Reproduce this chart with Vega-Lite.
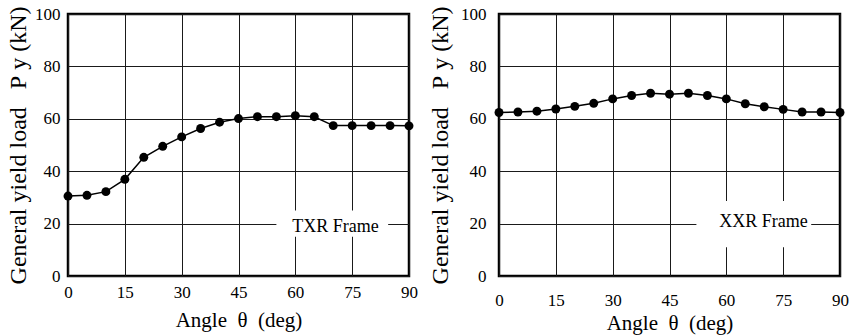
{
  "$schema": "https://vega.github.io/schema/vega-lite/v6.json",
  "padding": {"left": 5, "top": 3, "right": 0, "bottom": 0},
  "background": "white",
  "config": {
    "view": {"stroke": "black", "strokeWidth": 2.5},
    "axis": {
      "grid": true, "gridColor": "#1a1a1a", "gridOpacity": 1, "gridWidth": 1,
      "domain": false, "ticks": false, "labelFlush": false, "labelOverlap": false,
      "labelFontSize": 17, "labelColor": "black",
      "titleFontWeight": "normal", "titleColor": "black", "titleFontSize": 21
    }
  },
  "datasets": {
    "txr": [
      {"angle": 0, "load": 30.5}, {"angle": 5, "load": 30.8}, {"angle": 10, "load": 32.2},
      {"angle": 15, "load": 36.9}, {"angle": 20, "load": 45.3}, {"angle": 25, "load": 49.5},
      {"angle": 30, "load": 53.1}, {"angle": 35, "load": 56.3}, {"angle": 40, "load": 58.7},
      {"angle": 45, "load": 60.1}, {"angle": 50, "load": 60.8}, {"angle": 55, "load": 60.8},
      {"angle": 60, "load": 61.2}, {"angle": 65, "load": 60.8}, {"angle": 70, "load": 57.4},
      {"angle": 75, "load": 57.4}, {"angle": 80, "load": 57.4}, {"angle": 85, "load": 57.4},
      {"angle": 90, "load": 57.3}
    ],
    "xxr": [
      {"angle": 0, "load": 62.4}, {"angle": 5, "load": 62.6}, {"angle": 10, "load": 62.9},
      {"angle": 15, "load": 63.75}, {"angle": 20, "load": 64.75}, {"angle": 25, "load": 65.9},
      {"angle": 30, "load": 67.6}, {"angle": 35, "load": 68.9}, {"angle": 40, "load": 69.75},
      {"angle": 45, "load": 69.4}, {"angle": 50, "load": 69.75}, {"angle": 55, "load": 68.9},
      {"angle": 60, "load": 67.6}, {"angle": 65, "load": 65.75}, {"angle": 70, "load": 64.6},
      {"angle": 75, "load": 63.6}, {"angle": 80, "load": 62.6}, {"angle": 85, "load": 62.6},
      {"angle": 90, "load": 62.4}
    ],
    "lab1": [{"label": "TXR Frame"}],
    "lab2": [{"label": "XXR Frame"}]
  },
  "spacing": 8,
  "hconcat": [
    {
      "width": 341, "height": 262,
      "layer": [
        {
          "data": {"name": "txr"},
          "mark": {"type": "line", "color": "black", "strokeWidth": 1.5},
          "encoding": {
            "x": {"field": "angle", "type": "quantitative", "scale": {"domain": [0, 90], "nice": false},
                  "axis": {"values": [0, 15, 30, 45, 60, 75, 90], "title": "Angle\u00a0\u00a0θ\u00a0\u00a0(deg)", "labelFont": "Liberation Serif", "titleFont": "Liberation Serif", "labelPadding": 8, "titlePadding": 9}},
            "y": {"field": "load", "type": "quantitative", "scale": {"domain": [0, 100], "nice": false},
                  "axis": {"values": [0, 20, 40, 60, 80, 100], "title": "General yield load\u00a0\u00a0\u00a0P\u00a0y\u00a0(kN)", "labelFont": "Liberation Serif", "titleFont": "Liberation Serif", "labelPadding": 8, "titlePadding": 4, "titleFontSize": 24}}
          }
        },
        {
          "data": {"name": "lab1"},
          "mark": {"type": "rect", "fill": "white"},
          "encoding": {"x": {"datum": 55, "type": "quantitative"}, "x2": {"datum": 84.5}, "y": {"datum": 15, "type": "quantitative"}, "y2": {"datum": 25}}
        },
        {
          "data": {"name": "lab1"},
          "mark": {"type": "text", "font": "Liberation Serif", "fontSize": 18, "color": "black", "align": "center", "baseline": "middle"},
          "encoding": {"x": {"datum": 70.6, "type": "quantitative"}, "y": {"datum": 18.7, "type": "quantitative"}, "text": {"field": "label"}}
        },
        {
          "data": {"name": "txr"},
          "mark": {"type": "point", "filled": true, "color": "black", "opacity": 1, "size": 80},
          "encoding": {
            "x": {"field": "angle", "type": "quantitative"},
            "y": {"field": "load", "type": "quantitative"}
          }
        }
      ]
    },
    {
      "width": 341, "height": 262,
      "layer": [
        {
          "data": {"name": "xxr"},
          "mark": {"type": "line", "color": "black", "strokeWidth": 1.5},
          "encoding": {
            "x": {"field": "angle", "type": "quantitative", "scale": {"domain": [0, 90], "nice": false},
                  "axis": {"values": [0, 15, 30, 45, 60, 75, 90], "title": "Angle\u00a0\u00a0θ\u00a0\u00a0(deg)", "labelFont": "Liberation Serif", "titleFont": "Liberation Serif", "labelPadding": 16, "titlePadding": 4, "labelDx": 2}},
            "y": {"field": "load", "type": "quantitative", "scale": {"domain": [0, 100], "nice": false},
                  "axis": {"values": [0, 20, 40, 60, 80, 100], "title": "General yield load\u00a0\u00a0\u00a0P\u00a0y\u00a0(kN)", "labelFont": "Liberation Serif", "titleFont": "Liberation Serif", "labelPadding": 13, "titlePadding": 8, "titleFontSize": 24}}
          }
        },
        {
          "data": {"name": "lab2"},
          "mark": {"type": "rect", "fill": "white"},
          "encoding": {"x": {"datum": 52.1, "type": "quantitative"}, "x2": {"datum": 82.4}, "y": {"datum": 11, "type": "quantitative"}, "y2": {"datum": 28.6}}
        },
        {
          "data": {"name": "lab2"},
          "mark": {"type": "text", "font": "Liberation Serif", "fontSize": 18, "color": "black", "align": "center", "baseline": "middle"},
          "encoding": {"x": {"datum": 69.8, "type": "quantitative"}, "y": {"datum": 20.6, "type": "quantitative"}, "text": {"field": "label"}}
        },
        {
          "data": {"name": "xxr"},
          "mark": {"type": "point", "filled": true, "color": "black", "opacity": 1, "size": 80},
          "encoding": {
            "x": {"field": "angle", "type": "quantitative"},
            "y": {"field": "load", "type": "quantitative"}
          }
        }
      ]
    }
  ]
}
